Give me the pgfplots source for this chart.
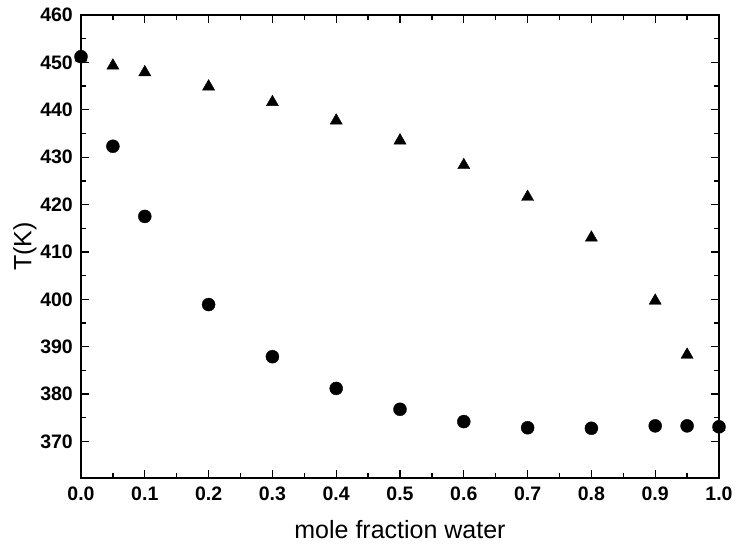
\documentclass[border=0pt]{standalone}
\usepackage{fontspec}
\setmainfont{Liberation Sans}
\usepackage{pgfplots}
\pgfplotsset{compat=1.18}
\begin{document}
\begin{tikzpicture}
\begin{axis}[
    name=ax,
    width=638pt, height=463pt, scale only axis,
    xmin=0, xmax=1,
    ymin=362.3, ymax=460,
    xtick={0,0.1,0.2,0.3,0.4,0.5,0.6,0.7,0.8,0.9,1.0},
    xticklabels={0.0,0.1,0.2,0.3,0.4,0.5,0.6,0.7,0.8,0.9,1.0},
    ytick={370,380,390,400,410,420,430,440,450,460},
    minor x tick num=1, minor y tick num=1,
    tick align=inside,
    major tick length=8pt, minor tick length=5pt,
    axis line style={line width=1.6pt},
    every tick/.style={black, line width=1.3pt},
    /pgf/number format/assume math mode=true,
    ticklabel style={font=\fontsize{19.5}{22}\selectfont\bfseries, inner sep=0pt},
    xticklabel style={yshift=-9pt},
    yticklabel style={xshift=-8pt},
    xlabel={mole fraction water},
    ylabel={T(K)},
    label style={font=\fontsize{25}{28}\selectfont},
    xlabel style={at={(axis description cs:0.5,-0.1123)}, anchor=center},
    ylabel style={at={(axis description cs:-0.0878,0.5)}, anchor=center},
    clip=false,
]

% triangles
\addplot[only marks, mark=triangle*, mark size=7pt, black]
    coordinates {
     (0, 451.0) (0.05, 449.3) (0.1, 447.9) (0.2, 444.9) (0.3, 441.6) (0.4, 437.7) (0.5, 433.5) (0.6, 428.3) (0.7, 421.6) (0.8, 413.0) (0.9, 399.7) (0.95, 388.3) (1.0, 373.0)
    };

% circles
\addplot[only marks, mark=*, mark size=6.5pt, black]
    coordinates {
     (0, 451.2) (0.05, 432.3) (0.1, 417.5) (0.2, 398.9) (0.3, 387.9) (0.4, 381.2) (0.5, 376.8) (0.6, 374.2) (0.7, 372.9) (0.8, 372.8) (0.9, 373.3) (0.95, 373.3) (1.0, 373.1)
    };

\end{axis}
\pgfresetboundingbox
\path ([xshift=-81pt,yshift=-72pt]ax.south west) rectangle ([xshift=17pt,yshift=15pt]ax.north east);
\end{tikzpicture}
\end{document}
